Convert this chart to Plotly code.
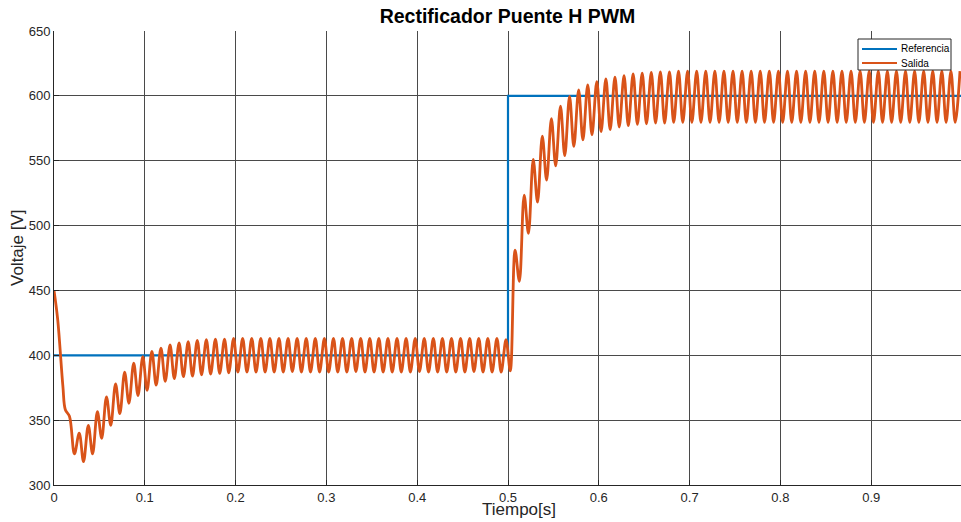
import plotly.graph_objects as go

# ---- data ----
ref_t = [0.0, 0.5, 0.5, 1.0]
ref_v = [400, 400, 600, 600]

# initial discharge (before ripple starts)
start_t = [0.0, 0.004, 0.0098, 0.0125, 0.017]
start_v = [450, 428, 376, 358, 353]

# ripple extremes: troughs at 0.0225 + 0.01k, peaks at 0.0278 + 0.01k (100 Hz ripple)
trough_t0, peak_t0, ripple_period = 0.0225, 0.0278, 0.01

trough_v = [324, 318, 324, 336, 346, 355, 363, 369, 373, 377,
            380, 382, 383.5, 384, 385, 385.5, 386, 386.5, 387, 387,
            387, 387, 387, 387, 387.5, 387, 387, 387, 387, 387,
            387, 387.5, 387, 387, 387, 387, 387, 387, 387.5, 387,
            387, 387, 387, 387, 387.5, 387, 387, 387,
            388, 457, 494, 518, 535, 546, 554, 561, 566, 570,
            572.5, 574, 576, 577, 578, 578.5, 579, 579, 579.5, 579.5,
            579.5, 579.5, 579.5, 579.5, 579.5, 579.5, 579.5, 579.5, 579.5, 579.5,
            579.5, 579.5, 579.5, 579.5, 579.5, 579.5, 579.5, 579.5, 579.5, 579.5,
            579.5, 579.5, 579.5, 579.5, 579.5, 579.5, 579.5, 579.5, 579.5, 579.5]

peak_v = [340, 346, 356.5, 368, 378, 387, 394, 399, 403, 405.5,
          408, 409.5, 410.5, 411.5, 412, 412.5, 412.5, 413, 413, 413,
          413, 413, 413, 413, 413, 413, 413, 413, 413, 413,
          413, 413, 413, 413, 413, 413, 413, 413, 413, 413,
          413, 413, 413, 413, 413, 413, 413, 412,
          481, 523.5, 551, 569, 582.5, 592, 599.5, 604.5, 608.5, 611,
          613, 614.5, 615.5, 617, 617.5, 618, 618.5, 618.5, 619, 619,
          619, 619, 619, 619, 619, 619, 619, 619, 619, 619,
          619, 619, 619, 619, 619, 619, 619, 619, 619, 619,
          619, 619, 619, 619, 619, 619, 619, 619, 619, 619]

x_ticks = [0, 0.1, 0.2, 0.3, 0.4, 0.5, 0.6, 0.7, 0.8, 0.9]
x_tick_labels = ["0", "0.1", "0.2", "0.3", "0.4", "0.5", "0.6", "0.7", "0.8", "0.9"]
y_ticks = [300, 350, 400, 450, 500, 550, 600, 650]
series_names = ["Referencia", "Salida"]
series_colors = ["#0072BD", "#D95319"]

# ---- assemble output series ----
out_t = list(start_t)
out_v = list(start_v)
for k in range(len(trough_v)):
    out_t.append(trough_t0 + ripple_period * k)
    out_v.append(trough_v[k])
    out_t.append(peak_t0 + ripple_period * k)
    out_v.append(peak_v[k])

fig = go.Figure()
fig.add_trace(go.Scatter(x=ref_t, y=ref_v, mode="lines", name=series_names[0],
                         line=dict(color=series_colors[0], width=2.2), showlegend=False))
fig.add_trace(go.Scatter(x=out_t, y=out_v, mode="lines", name=series_names[1],
                         line=dict(color=series_colors[1], width=2.8, shape="spline", smoothing=1.0),
                         showlegend=False))

grid_col = "#4a4a4a"
axis_col = "#262626"
font_fam = "Liberation Sans, Arial, sans-serif"

PW, PH, L, B = 907, 454, 54, 485


def px_x(px):
    return (px - L) / PW


def px_y(py):
    return (B - py) / PH


fig.update_layout(
    width=961, height=522,
    margin=dict(l=54, r=0, t=31, b=37),
    paper_bgcolor="white", plot_bgcolor="white",
    font=dict(family=font_fam, color=axis_col),
    title=dict(text="<b>Rectificador Puente H PWM</b>", x=0.5, xref="paper",
               y=1 - 16 / 522, yref="container", yanchor="middle", xanchor="center",
               font=dict(size=19.5, color="black", family=font_fam)),
    showlegend=False,
)
fig.update_xaxes(range=[0, 0.9989], tickvals=x_ticks, ticktext=x_tick_labels,
                 showgrid=True, gridcolor=grid_col, gridwidth=1,
                 showline=True, linecolor=axis_col, linewidth=1,
                 ticks="inside", ticklen=5, tickcolor=axis_col,
                 tickfont=dict(size=13, color=axis_col), zeroline=False)
fig.update_yaxes(range=[300, 650], tickvals=y_ticks,
                 showgrid=True, gridcolor=grid_col, gridwidth=1,
                 showline=True, linecolor=axis_col, linewidth=1,
                 ticks="inside", ticklen=5, tickcolor=axis_col,
                 tickfont=dict(size=13, color=axis_col), zeroline=False)

fig.add_annotation(text="Tiempo[s]", x=px_x(519), y=px_y(509),
                   xref="paper", yref="paper", showarrow=False,
                   xanchor="center", yanchor="middle",
                   font=dict(size=17, color=axis_col))
fig.add_annotation(text="Voltaje [V]", x=px_x(17), y=px_y(248),
                   xref="paper", yref="paper", textangle=-90, showarrow=False,
                   xanchor="center", yanchor="middle",
                   font=dict(size=17, color=axis_col))

# ---- legend box drawn MATLAB-style ----
fig.add_shape(type="rect", xref="paper", yref="paper",
              x0=px_x(858), x1=px_x(951), y0=px_y(70), y1=px_y(39),
              fillcolor="white", line=dict(color=axis_col, width=1), layer="above")
for i, (nm, col) in enumerate(zip(series_names, series_colors)):
    yy = 49 + 14 * i
    fig.add_shape(type="line", xref="paper", yref="paper",
                  x0=px_x(862), x1=px_x(897), y0=px_y(yy), y1=px_y(yy),
                  line=dict(color=col, width=2), layer="above")
    fig.add_annotation(text=nm, x=px_x(899), y=px_y(yy), xref="paper", yref="paper",
                       showarrow=False, xanchor="left", yanchor="middle",
                       font=dict(size=10, color="black"))

fig.write_html("out.html", config={"displayModeBar": False},
               post_script="document.body.style.margin='0';document.body.style.overflow='hidden';")
